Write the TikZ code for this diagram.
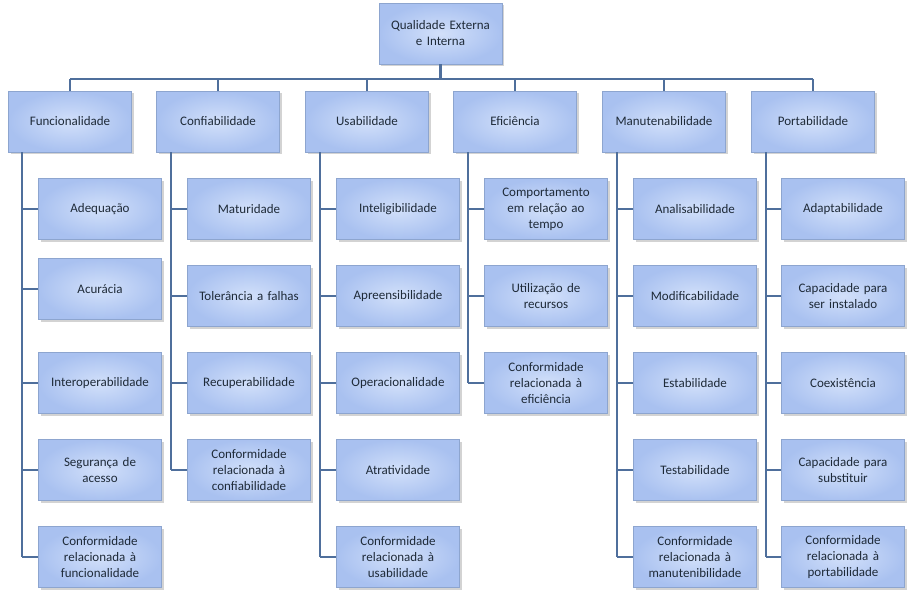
\documentclass[tikz,border=0pt]{standalone}
\usepackage{fontspec}
\setmainfont{Carlito}
\usetikzlibrary{shadows}
\definecolor{ln}{HTML}{4F6F9C}
\definecolor{bc}{HTML}{D2E0FA}
\definecolor{be}{HTML}{A9C1F0}
\definecolor{bd}{HTML}{8DA5CF}
\definecolor{tx}{HTML}{1E2A38}
\begin{document}
\begin{tikzpicture}[x=1pt,y=-1pt,
 box/.style={draw=bd,line width=0.8pt,inner color=bc,outer color=be,minimum width=123pt,minimum height=61pt,
   text width=118pt,align=center,inner sep=1pt,font=\fontsize{13}{16}\selectfont,text=tx,
   drop shadow={shadow xshift=2pt,shadow yshift=-2pt,opacity=0.35}},
 conn/.style={draw=ln,line width=2.6pt}]
\useasboundingbox (0,0) rectangle (918,600);
\node[box] (root) at (440.5,33.5) {Qualidade Externa\\e Interna};
\coordinate (busL) at (70,79);
\coordinate (busR) at (813,79);
\draw[conn] (busL) -- (busR);
\draw[conn] (root.south) -- (root.south |- busR);
% parents
\node[box] (p1) at (70,121.5) {Funcionalidade};
\node[box] (p2) at (218,121.5) {Confiabilidade};
\node[box] (p3) at (367,121.5) {Usabilidade};
\node[box] (p4) at (515,121.5) {Eficiência};
\node[box] (p5) at (664,121.5) {Manutenabilidade};
\node[box] (p6) at (813,121.5) {Portabilidade};
\foreach \p in {p1,p2,p3,p4,p5,p6}{\draw[conn] (\p.north) -- (\p.north |- busL);}
% children helper
\newcommand{\kid}[5]{% name, parent-x-line, center x, center y, text
 \node[box] (#1) at (#3,#4) {#5};
 \coordinate (#1j) at (#2,#4);
 \draw[conn] (#1j) -- (#1.west);}
% col1
\kid{a1}{22}{100}{209}{Adequação}
\kid{a2}{22}{100}{289}{Acurácia}
\kid{a3}{22}{100}{383}{Interoperabilidade}
\kid{a4}{22}{100}{470}{Segurança de\\acesso}
\kid{a5}{22}{100}{557}{Conformidade\\relacionada à\\funcionalidade}
\coordinate (v1) at (22,152); \draw[conn] (v1) -- (a5j);
% col2
\kid{b1}{171}{249}{209}{Maturidade}
\kid{b2}{171}{249}{296}{Tolerância a falhas}
\kid{b3}{171}{249}{383}{Recuperabilidade}
\kid{b4}{171}{249}{470}{Conformidade\\relacionada à\\confiabilidade}
\coordinate (v2) at (171,152); \draw[conn] (v2) -- (b4j);
% col3
\kid{c1}{320}{398}{209}{Inteligibilidade}
\kid{c2}{320}{398}{296}{Apreensibilidade}
\kid{c3}{320}{398}{383}{Operacionalidade}
\kid{c4}{320}{398}{470}{Atratividade}
\kid{c5}{320}{398}{557}{Conformidade\\relacionada à\\usabilidade}
\coordinate (v3) at (320,152); \draw[conn] (v3) -- (c5j);
% col4
\kid{d1}{468}{546}{209}{Comportamento\\em relação ao\\tempo}
\kid{d2}{468}{546}{296}{Utilização de\\recursos}
\kid{d3}{468}{546}{383}{Conformidade\\relacionada à\\eficiência}
\coordinate (v4) at (468,152); \draw[conn] (v4) -- (d3j);
% col5
\kid{e1}{617}{695}{209}{Analisabilidade}
\kid{e2}{617}{695}{296}{Modificabilidade}
\kid{e3}{617}{695}{383}{Estabilidade}
\kid{e4}{617}{695}{470}{Testabilidade}
\kid{e5}{617}{695}{557}{Conformidade\\relacionada à\\manutenibilidade}
\coordinate (v5) at (617,152); \draw[conn] (v5) -- (e5j);
% col6
\kid{f1}{766}{843}{209}{Adaptabilidade}
\kid{f2}{766}{843}{296}{Capacidade para\\ser instalado}
\kid{f3}{766}{843}{383}{Coexistência}
\kid{f4}{766}{843}{470}{Capacidade para\\substituir}
\kid{f5}{766}{843}{557}{Conformidade\\relacionada à\\portabilidade}
\coordinate (v6) at (766,152); \draw[conn] (v6) -- (f5j);
\end{tikzpicture}
\end{document}
